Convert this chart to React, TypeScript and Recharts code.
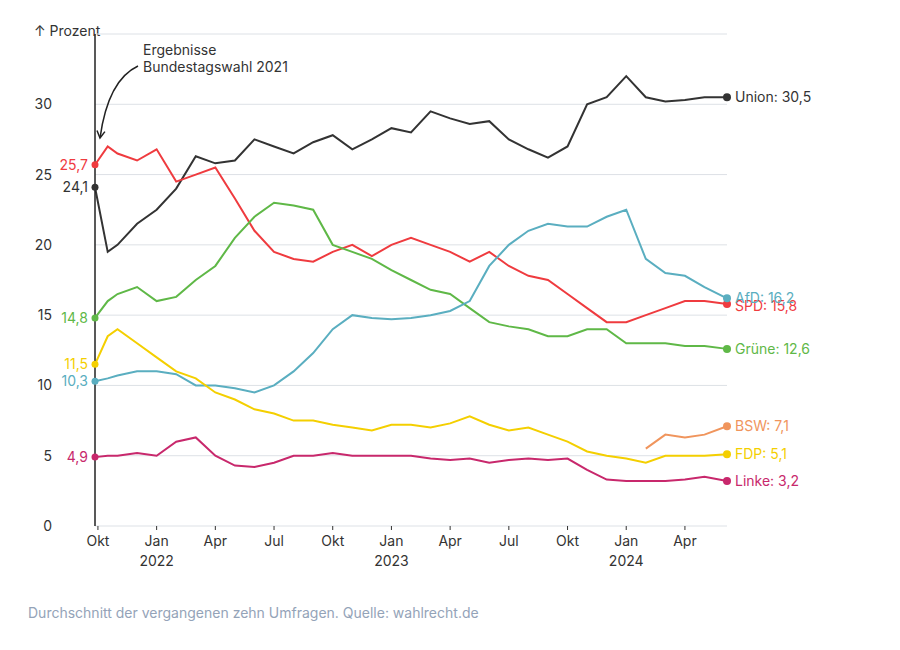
import { ComposedChart, Line, XAxis, YAxis, CartesianGrid } from "recharts";

// months since 1 Oct 2021
const months = [-0.15, 0.5, 1, 2, 3, 4, 5, 6, 7, 8, 9, 10, 11, 12, 13, 14, 15, 16, 17, 18, 19, 20, 21, 22, 23, 24, 25, 26, 27, 28, 29, 30, 31, 32.15];

const union = [24.1, 19.5, 20, 21.5, 22.5, 24, 26.3, 25.8, 26, 27.5, 27, 26.5, 27.3, 27.8, 26.8, 27.5, 28.3, 28, 29.5, 29, 28.6, 28.8, 27.5, 26.8, 26.2, 27, 30, 30.5, 32, 30.5, 30.2, 30.3, 30.5, 30.5];
const spd = [25.7, 27, 26.5, 26, 26.8, 24.5, 25, 25.5, 23.3, 21, 19.5, 19, 18.8, 19.5, 20, 19.2, 20, 20.5, 20, 19.5, 18.8, 19.5, 18.5, 17.8, 17.5, 16.5, 15.5, 14.5, 14.5, 15, 15.5, 16, 16, 15.8];
const gruene = [14.8, 16, 16.5, 17, 16, 16.3, 17.5, 18.5, 20.5, 22, 23, 22.8, 22.5, 20, 19.5, 19, 18.2, 17.5, 16.8, 16.5, 15.5, 14.5, 14.2, 14, 13.5, 13.5, 14, 14, 13, 13, 13, 12.8, 12.8, 12.6];
const afd = [10.3, 10.5, 10.7, 11, 11, 10.8, 10, 10, 9.8, 9.5, 10, 11, 12.3, 14, 15, 14.8, 14.7, 14.8, 15, 15.3, 16, 18.5, 20, 21, 21.5, 21.3, 21.3, 22, 22.5, 19, 18, 17.8, 17, 16.2];
const fdp = [11.5, 13.5, 14, 13, 12, 11, 10.5, 9.5, 9, 8.3, 8, 7.5, 7.5, 7.2, 7, 6.8, 7.2, 7.2, 7, 7.3, 7.8, 7.2, 6.8, 7, 6.5, 6, 5.3, 5, 4.8, 4.5, 5, 5, 5, 5.1];
const linke = [4.9, 5, 5, 5.2, 5, 6, 6.3, 5, 4.3, 4.2, 4.5, 5, 5, 5.2, 5, 5, 5, 5, 4.8, 4.7, 4.8, 4.5, 4.7, 4.8, 4.7, 4.8, 4, 3.3, 3.2, 3.2, 3.2, 3.3, 3.5, 3.2];
const bsw = [null, null, null, null, null, null, null, null, null, null, null, null, null, null, null, null, null, null, null, null, null, null, null, null, null, null, null, null, null, 5.5, 6.5, 6.3, 6.5, 7.1];

const xTicks = [0, 3, 6, 9, 12, 15, 18, 21, 24, 27, 30];
const xLabels = ["Okt", "Jan", "Apr", "Jul", "Okt", "Jan", "Apr", "Jul", "Okt", "Jan", "Apr"];
const xYears: Record<number, string> = { 3: "2022", 15: "2023", 27: "2024" };
const yTicks = [0, 5, 10, 15, 20, 25, 30];

const series = [
  { key: "union", name: "Union", color: "#333333", values: union, start: true, dy: 0 },
  { key: "spd", name: "SPD", color: "#ef3b3f", values: spd, start: true, dy: 2 },
  { key: "gruene", name: "Grüne", color: "#5fb847", values: gruene, start: true, dy: 0 },
  { key: "afd", name: "AfD", color: "#5aaec0", values: afd, start: true, dy: 0 },
  { key: "fdp", name: "FDP", color: "#f4cf00", values: fdp, start: true, dy: 0 },
  { key: "linke", name: "Linke", color: "#c8286c", values: linke, start: true, dy: 0 },
  { key: "bsw", name: "BSW", color: "#f0955d", values: bsw, start: false, dy: 0 },
];

const data = months.map((m, i) => {
  const row: Record<string, number | null> = { t: m };
  series.forEach((s) => (row[s.key] = s.values[i]));
  return row;
});

const fmt = (v: number) => v.toFixed(1).replace(".", ",");
const font = "Inter, 'Noto Sans', sans-serif";

const makeLabel = (s: (typeof series)[number]) => (p: any) => {
  const last = months.length - 1;
  const v = s.values[p.index];
  if (v == null) return null;
  if (p.index === last) {
    return (
      <g key={`e${p.index}`}>
        <circle cx={p.x} cy={p.y} r={4} fill={s.color} />
        <text x={p.x + 8} y={p.y + 5 + s.dy} fontSize={14} fill={s.color} fontFamily={font}>
          {`${s.name}: ${fmt(v)}`}
        </text>
      </g>
    );
  }
  if (p.index === 0 && s.start) {
    return (
      <g key={`s${p.index}`}>
        <circle cx={p.x} cy={p.y} r={3.5} fill={s.color} />
        <text x={p.x - 7} y={p.y + 5} fontSize={14} textAnchor="end" fill={s.color} fontFamily={font}>
          {fmt(v)}
        </text>
      </g>
    );
  }
  return null;
};

const XTick = (p: any) => {
  const v = p.payload.value;
  const i = xTicks.indexOf(v);
  return (
    <g transform={`translate(${p.x},${p.y})`}>
      <text y={14} textAnchor="middle" fontSize={14} fill="#333" fontFamily={font}>{xLabels[i]}</text>
      {xYears[v] && (
        <text y={34} textAnchor="middle" fontSize={14} fill="#333" fontFamily={font}>{xYears[v]}</text>
      )}
    </g>
  );
};

export default function App() {
  return (
    <div style={{ position: "relative", width: 884, height: 634, fontFamily: font }}>
      <div style={{ position: "absolute", left: 26, top: 14, fontSize: 14, color: "#333" }}>↑ Prozent</div>
      <ComposedChart width={884} height={580} data={data} margin={{ top: 26, right: 165, bottom: 0, left: 0 }}>
        <CartesianGrid horizontal vertical={false} stroke="#dde1e6" />
        <XAxis
          dataKey="t"
          type="number"
          domain={[-0.15, 32.15]}
          ticks={xTicks}
          tick={<XTick />}
          height={62}
          axisLine={false}
          tickLine={{ stroke: "#333" }}
          tickSize={4}
          interval={0}
        />
        <YAxis
          domain={[0, 35]}
          ticks={yTicks}
          width={87}
          axisLine={{ stroke: "#222", strokeWidth: 1.5 }}
          tickLine={false}
          tickMargin={37}
          tick={{ fontSize: 14, fill: "#333", fontFamily: font }}
        />
        {series.map((s) => (
          <Line
            key={s.key}
            dataKey={s.key}
            stroke={s.color}
            strokeWidth={2}
            dot={false}
            type="linear"
            connectNulls={false}
            isAnimationActive={false}
            label={makeLabel(s)}
          />
        ))}
      </ComposedChart>
      <svg width={884} height={634} style={{ position: "absolute", left: 0, top: 0, pointerEvents: "none" }}>
        <defs>
          <marker id="arr" markerWidth="10" markerHeight="10" refX="8" refY="5" orient="auto" markerUnits="userSpaceOnUse">
            <path d="M1,1 L8,5 L1,9" fill="none" stroke="#222" strokeWidth="1.5" />
          </marker>
        </defs>
        <text x={135} y={47} fontSize={14} fill="#333" fontFamily={font}>Ergebnisse</text>
        <text x={135} y={64} fontSize={14} fill="#333" fontFamily={font}>Bundestagswahl 2021</text>
        <path d="M130,58 Q100,72 92,130" fill="none" stroke="#222" strokeWidth={1.5} markerEnd="url(#arr)" />
      </svg>
      <div style={{ position: "absolute", left: 20, top: 596, fontSize: 14, color: "#94a3b8" }}>
        Durchschnitt der vergangenen zehn Umfragen. Quelle: wahlrecht.de
      </div>
    </div>
  );
}
